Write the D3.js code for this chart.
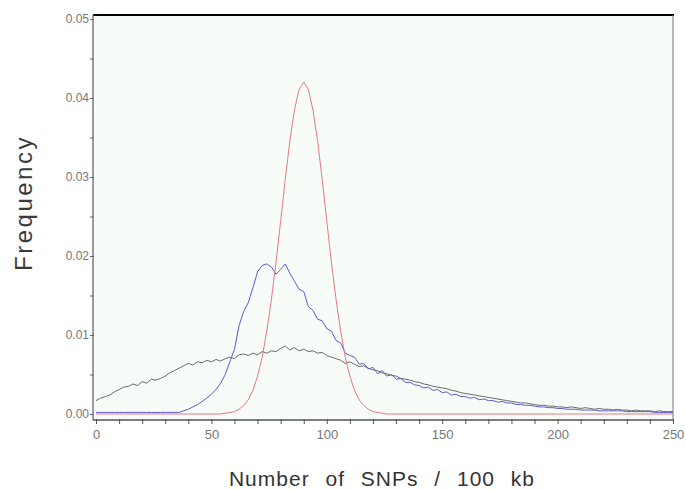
<!DOCTYPE html>
<html><head><meta charset="utf-8">
<script src="https://cdn.jsdelivr.net/npm/d3@7"></script>
<style>body{margin:0;background:#fff}svg{display:block}</style>
</head><body>
<script>
// bin centres (Number of SNPs / 100 kb), step 2
const bins = d3.range(0, 251, 2);
const grayFreq = [
0.0017,0.0020,0.0022,0.0024,0.0028,0.0031,0.0034,0.0035,0.0038,0.0036,
0.0041,0.0039,0.0044,0.0043,0.0045,0.0048,0.0052,0.0055,0.0058,0.0061,
0.0064,0.0062,0.0066,0.0065,0.0068,0.0066,0.0069,0.0067,0.0070,0.0072,
0.0070,0.0075,0.0076,0.0074,0.0077,0.0075,0.0079,0.0077,0.0080,0.0079,
0.0083,0.0086,0.0081,0.0084,0.0080,0.0082,0.0079,0.0080,0.0077,0.0078,
0.0074,0.0072,0.0070,0.0068,0.0064,0.0066,0.0063,0.0060,0.0061,0.0058,
0.0056,0.0055,0.0052,0.0051,0.0049,0.0048,0.0045,0.0044,0.0043,0.0041,
0.0040,0.0038,0.0037,0.0035,0.0034,0.0033,0.0032,0.0030,0.0029,0.0027,
0.0026,0.0025,0.0024,0.0023,0.0022,0.0021,0.0020,0.0019,0.0018,0.0017,
0.0016,0.0015,0.0014,0.0014,0.0013,0.0012,0.0011,0.0011,0.0010,0.0010,
0.0009,0.0009,0.0008,0.0009,0.0008,0.0007,0.0008,0.0007,0.0006,0.0007,
0.0006,0.0006,0.0005,0.0006,0.0005,0.0005,0.0004,0.0005,0.0004,0.0004,
0.0004,0.0003,0.0004,0.0003,0.0003,0.0003];
const blueFreq = [
0.0002,0.0002,0.0002,0.0002,0.0002,0.0002,0.0002,0.0002,0.0002,0.0002,
0.0002,0.0002,0.0002,0.0002,0.0002,0.0002,0.0002,0.0002,0.0002,0.0004,
0.0006,0.0009,0.0012,0.0016,0.0020,0.0025,0.0031,0.0039,0.0050,0.0066,
0.0082,0.0112,0.0130,0.0141,0.0160,0.0180,0.0188,0.0190,0.0186,0.0177,
0.0183,0.0190,0.0178,0.0168,0.0158,0.0155,0.0136,0.0131,0.0120,0.0118,
0.0108,0.0105,0.0093,0.0090,0.0077,0.0074,0.0072,0.0063,0.0064,0.0057,
0.0059,0.0051,0.0055,0.0048,0.0050,0.0044,0.0045,0.0040,0.0040,0.0037,
0.0036,0.0033,0.0034,0.0030,0.0031,0.0027,0.0028,0.0024,0.0025,0.0022,
0.0022,0.0020,0.0021,0.0018,0.0019,0.0017,0.0017,0.0015,0.0016,0.0014,
0.0014,0.0012,0.0012,0.0011,0.0011,0.0010,0.0009,0.0009,0.0008,0.0008,
0.0007,0.0007,0.0006,0.0006,0.0006,0.0005,0.0005,0.0005,0.0005,0.0004,
0.0004,0.0004,0.0004,0.0004,0.0004,0.0003,0.0003,0.0003,0.0003,0.0003,
0.0003,0.0002,0.0002,0.0002,0.0002,0.0002];
const redFreq = [
0,0,0,0,0,0,0,0,0,0,
0,0,0,0,0,0,0,0,0,0,
0,0,0,0,0,0,0,0,0.0001,0.0002,
0.0003,0.0006,0.0011,0.0018,0.0030,0.0048,0.0072,0.0105,0.0145,0.0192,
0.0244,0.0297,0.0346,0.0385,0.0411,0.0420,0.0411,0.0385,0.0346,0.0297,
0.0244,0.0192,0.0145,0.0105,0.0072,0.0048,0.0030,0.0018,0.0011,0.0006,
0.0003,0.0002,0.0001,0,0,0,0,0,0,0,
0,0,0,0,0,0,0,0,0,0,
0,0,0,0,0,0,0,0,0,0,
0,0,0,0,0,0,0,0,0,0,
0,0,0,0,0,0,0,0,0,0,
0,0,0,0,0,0,0,0,0,0,
0,0,0,0,0,0];
const xTickLabels = [0, 50, 100, 150, 200, 250];
const yTickLabels = ["0.00", "0.01", "0.02", "0.03", "0.04", "0.05"];

const W = 686, H = 490;
const FONT = "Liberation Sans, Arial, sans-serif";
const svg = d3.select("body").append("svg").attr("width", W).attr("height", H);
const plotL = 93, plotR = 673, plotT = 15, plotB = 420;
const x = d3.scaleLinear().domain([0, 250]).range([96, 673]);
const y = d3.scaleLinear().domain([0, 0.05]).range([414, 19]);

svg.append("rect").attr("x", plotL).attr("y", plotT).attr("width", plotR - plotL).attr("height", plotB - plotT)
  .attr("fill", "#f8fcf8");

// series
const series = [
  {vals: grayFreq, color: "#6a6a6a"},
  {vals: blueFreq, color: "#5a5ad6"},
  {vals: redFreq, color: "#e57884"}
];
const line = d3.line().x(d => x(d[0])).y(d => y(d[1]));
series.forEach(s => {
  svg.append("path").datum(bins.map((b, i) => [b, s.vals[i]]))
    .attr("d", line).attr("fill", "none").attr("stroke", s.color).attr("stroke-width", 1)
    .attr("stroke-linejoin", "round");
});

// frame
svg.append("line").attr("x1", plotL).attr("x2", plotR + 1).attr("y1", plotT).attr("y2", plotT)
  .attr("stroke", "#000").attr("stroke-width", 2.2);
svg.append("line").attr("x1", plotR).attr("x2", plotR).attr("y1", plotT).attr("y2", plotB)
  .attr("stroke", "#777").attr("stroke-width", 1);

// x axis
const xAxis = svg.append("g").attr("transform", `translate(0,${plotB})`)
  .call(d3.axisBottom(x).tickValues(d3.range(0, 251, 10)).tickSize(4)
    .tickFormat(d => xTickLabels.includes(d) ? d : ""));
xAxis.select(".domain").attr("d", `M${plotL},0H${plotR}`).attr("stroke", "#555").attr("stroke-width", 1.3);
xAxis.selectAll(".tick line").attr("stroke", "#555").attr("y1", -1);
xAxis.selectAll(".tick text").attr("fill", "#777").attr("font-size", 13)
  .attr("font-family", FONT).attr("dy", "0.95em");

// y axis
const yAxis = svg.append("g").attr("transform", `translate(${plotL},0)`)
  .call(d3.axisLeft(y).tickValues(d3.range(0, 0.0501, 0.005)).tickSize(3)
    .tickFormat((d, i) => i % 2 === 0 ? yTickLabels[i / 2] : ""));
yAxis.select(".domain").attr("d", `M0,${plotT}V${plotB}`).attr("stroke", "#666").attr("stroke-width", 1.3);
yAxis.selectAll(".tick line").attr("stroke", "#666").attr("x2", -3).attr("x1", 1);
yAxis.selectAll(".tick text").attr("fill", "#777").attr("font-size", 12)
  .attr("font-family", FONT).attr("x", -4);

// titles
svg.append("text").attr("x", 382).attr("y", 486).attr("text-anchor", "middle")
  .attr("font-family", FONT).attr("font-size", 21).attr("letter-spacing", 1)
  .attr("fill", "#333").attr("word-spacing", 9).text("Number of SNPs / 100 kb");
svg.append("text").attr("transform", "translate(32,203) rotate(-90)").attr("text-anchor", "middle")
  .attr("font-family", FONT).attr("font-size", 24).attr("letter-spacing", 2.5)
  .attr("fill", "#3a3a3a").text("Frequency");
</script>
</body></html>
